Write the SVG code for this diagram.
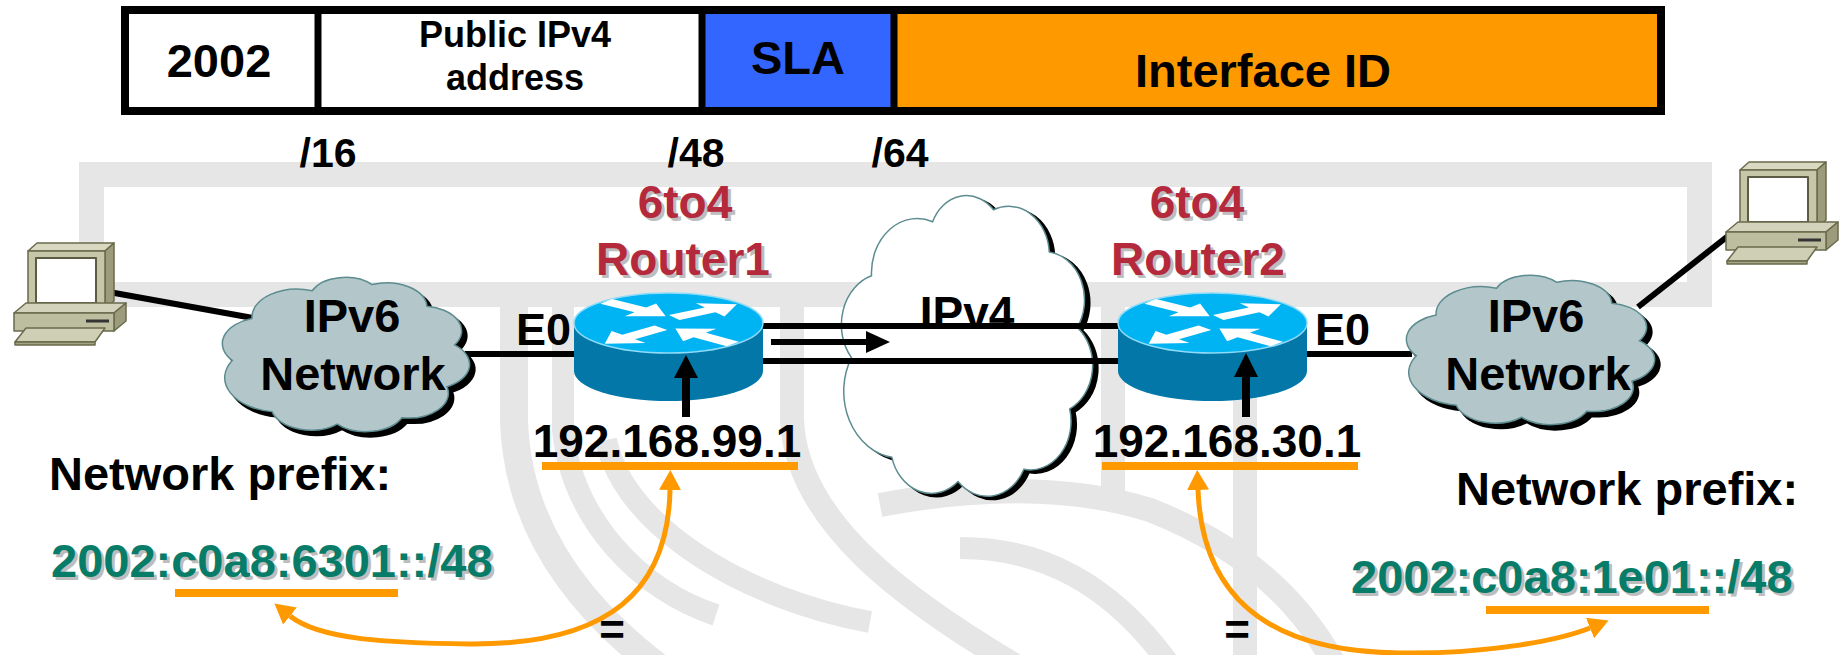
<svg xmlns="http://www.w3.org/2000/svg" width="1847" height="655" viewBox="0 0 1847 655">
<defs>
<style>
text{font-family:"Liberation Sans",Arial,Helvetica,sans-serif;font-weight:bold;fill:#000;}
.mid{text-anchor:middle;}
.red{fill:#b4293b;}
.grn{fill:#067c69;}
.sh{fill:#bdbdbd;}
.bg{fill:none;stroke:#e6e6e6;stroke-linecap:butt;}
.wire{fill:none;stroke:#000;stroke-width:6;}
.ul{stroke:#ff9900;stroke-width:8;}
.oarc{fill:none;stroke:#ff9900;stroke-width:5;marker-start:url(#ohead);marker-end:url(#ohead);}
.pcl{stroke:#6a6a4c;stroke-width:1.5;stroke-linejoin:round;}
</style>
<marker id="ohead" viewBox="0 0 20 22" refX="0" refY="11" markerWidth="20" markerHeight="22" markerUnits="userSpaceOnUse" orient="auto-start-reverse">
<path d="M0,0 L20,11 L0,22 Z" fill="#ff9900"/>
</marker>
<!-- cloud outline; its bumps reach roughly x 9..94, y 8..94 of the unit box -->
<path id="cloud" vector-effect="non-scaling-stroke" d="M12.2,54.3 A14.6,14.6 0 0 1 19,31 A15.5,15.5 0 0 1 39.7,15.6 A12.5,12.5 0 0 1 60.3,12.2 A13.8,13.8 0 0 1 79.2,24.2 A13.8,13.8 0 0 1 88.7,45.7 A13.8,13.8 0 0 1 86.1,68.9 A13.8,13.8 0 0 1 70.6,86.1 A13.8,13.8 0 0 1 48.3,89.6 A13.8,13.8 0 0 1 25.9,82.7 A19,19 0 0 1 12.2,54.3 Z"/>
<!-- workstation, local box 112x102 -->
<g id="pc" class="pcl">
<polygon points="14,8 23,0 100,0 91,8" fill="#d9d9c2"/>
<polygon points="91,8 100,0 100,58 91,66" fill="#9c9c7c"/>
<rect x="14" y="8" width="77" height="58" fill="#c6c6a9"/>
<rect x="22" y="15" width="60" height="45" fill="#fff" stroke="#5c5c44" stroke-width="2"/>
<polygon points="0,70 12,60 112,60 100,70" fill="#d3d3bb"/>
<polygon points="100,70 112,60 112,78 100,88" fill="#9c9c7c"/>
<rect x="0" y="70" width="100" height="18" fill="#bdbd9f"/>
<line x1="72" y1="78" x2="95" y2="78" stroke="#333" stroke-width="3"/>
<polygon points="1,99 12,85 91,85 81,99" fill="#cfcfb6"/>
<polygon points="1,99 81,99 81,102 1,102" fill="#a3a385"/>
</g>
<!-- one routing arrow drawn along +x in the unit top face -->
<polygon id="rarrow" points="0,-0.1 0.46,-0.1 0.46,-0.27 0.8,0 0.46,0.27 0.46,0.1 0,0.1"/>
<!-- router cylinder, origin at centre of top face -->
<g id="router">
<path d="M-94.5,0 L-94.5,48 A94.5,30 0 0 0 94.5,48 L94.5,0 Z" fill="#0277a8"/>
<ellipse cx="0" cy="0" rx="94.5" ry="30" fill="#00b3f2" stroke="#8edcf7" stroke-width="1.5"/>
<g transform="scale(94.5,30)" fill="#fff">
<use href="#rarrow" transform="translate(-0.66,-0.72) rotate(38)"/>
<use href="#rarrow" transform="translate(0.06,-0.18) rotate(-34)"/>
<use href="#rarrow" transform="translate(-0.08,0.16) rotate(138)"/>
<use href="#rarrow" transform="translate(0.68,0.7) rotate(220.6)"/>
</g>
</g>
</defs>

<rect width="1847" height="655" fill="#fff"/>

<!-- light watermark pattern behind the drawing -->
<g id="backdrop">
<rect class="bg" x="91.5" y="174.5" width="1608" height="120" stroke-width="25"/>
<path class="bg" stroke-width="28" d="M514,300 L514,420 C517,530 582,610 662,670"/>
<path class="bg" stroke-width="22" stroke-linecap="round" d="M563,300 L563,430 C572,520 640,590 716,615"/>
<path class="bg" stroke-width="22" stroke-linecap="round" d="M606,440 C625,530 750,600 870,622"/>
<path class="bg" stroke-width="24" d="M792,300 L792,420 C796,520 900,600 1040,680"/>
<path class="bg" stroke-width="24" d="M1113,300 L1113,495"/>
<path class="bg" stroke-width="24" d="M1245,300 L1245,660"/>
<path class="bg" stroke-width="24" d="M880,505 C960,490 1060,482 1150,510 C1240,545 1300,600 1335,665"/>
<path class="bg" stroke-width="22" d="M960,548 C1040,548 1110,582 1170,665"/>
</g>

<!-- address format bar -->
<g id="prefix-bar">
<rect x="125" y="10" width="1536" height="101" fill="#fff"/>
<rect x="702" y="10" width="192" height="101" fill="#3366ff"/>
<rect x="894" y="10" width="767" height="101" fill="#ff9900"/>
<rect x="125" y="10" width="1536" height="101" fill="none" stroke="#000" stroke-width="8"/>
<line x1="318" y1="10" x2="318" y2="111" stroke="#000" stroke-width="7"/>
<line x1="702" y1="10" x2="702" y2="111" stroke="#000" stroke-width="7"/>
<line x1="894" y1="10" x2="894" y2="111" stroke="#000" stroke-width="7"/>
<text class="mid" x="219" y="77" font-size="47">2002</text>
<text class="mid" x="515" y="47" font-size="36">Public IPv4</text>
<text class="mid" x="515" y="90" font-size="36">address</text>
<text class="mid" x="798" y="74" font-size="47">SLA</text>
<text class="mid" x="1263" y="87" font-size="47">Interface ID</text>
<text class="mid" x="328" y="167" font-size="41">/16</text>
<text class="mid" x="696" y="167" font-size="41">/48</text>
<text class="mid" x="900" y="167" font-size="41">/64</text>
</g>

<!-- connectors -->
<g id="connectors">
<line class="wire" x1="109" y1="292" x2="253" y2="318"/>
<line class="wire" x1="465" y1="354" x2="576" y2="354"/>
<line class="wire" x1="763" y1="326" x2="1118" y2="326"/>
<line class="wire" x1="763" y1="361" x2="1118" y2="361"/>
<line class="wire" x1="1306" y1="354" x2="1412" y2="354"/>
<line class="wire" x1="1638" y1="307" x2="1728" y2="236"/>
</g>

<g id="pc-left"><use href="#pc" transform="translate(14,243)"/></g>
<g id="pc-right"><use href="#pc" transform="translate(1726,162)"/></g>

<g id="ipv6-left">
<use href="#cloud" transform="translate(201.8,267.6) scale(2.906,1.802)" fill="#000" stroke="#000" stroke-width="2"/>
<use href="#cloud" transform="translate(196.8,262.6) scale(2.906,1.802)" fill="#b3c7cb" stroke="#5d8c90" stroke-width="1.5"/>
<text class="mid" x="352" y="332" font-size="47">IPv6</text>
<text class="mid" x="353" y="390" font-size="47">Network</text>
</g>

<g id="ipv6-right">
<use href="#cloud" transform="translate(1385.7,266) scale(2.918,1.744)" fill="#000" stroke="#000" stroke-width="2"/>
<use href="#cloud" transform="translate(1380.7,261) scale(2.918,1.744)" fill="#b3c7cb" stroke="#5d8c90" stroke-width="1.5"/>
<text class="mid" x="1536" y="332" font-size="47">IPv6</text>
<text class="mid" x="1538" y="390" font-size="47">Network</text>
</g>

<g id="ipv4-cloud">
<use href="#cloud" transform="translate(820.4,169.9) scale(2.953,3.512)" fill="#000" stroke="#000" stroke-width="2"/>
<use href="#cloud" transform="translate(815.4,166.9) scale(2.953,3.512)" fill="#fff" stroke="#5d8c90" stroke-width="1.5"/>
<text class="mid" x="967" y="329" font-size="46">IPv4</text>
<line class="wire" x1="840" y1="326" x2="1098" y2="326"/>
<line class="wire" x1="840" y1="361" x2="1098" y2="361"/>
<line class="wire" x1="771" y1="342" x2="868" y2="342" stroke-width="8"/>
<polygon points="866,331 890,342 866,353" fill="#000"/>
</g>

<g id="router1">
<use href="#router" transform="translate(668.5,323)"/>
<text class="mid sh" x="688" y="221" font-size="46">6to4</text>
<text class="mid red" x="685" y="218" font-size="46">6to4</text>
<text class="mid sh" x="686" y="278" font-size="46">Router1</text>
<text class="mid red" x="683" y="275" font-size="46">Router1</text>
<text x="516" y="345" font-size="45">E0</text>
<line x1="686" y1="417" x2="686" y2="376" stroke="#000" stroke-width="8"/>
<polygon points="674,378 686,355 698,378" fill="#000"/>
<text class="mid" x="667" y="457" font-size="46">192.168.99.1</text>
</g>

<g id="router2">
<use href="#router" transform="translate(1212.5,323)"/>
<text class="mid sh" x="1200" y="221" font-size="46">6to4</text>
<text class="mid red" x="1197" y="218" font-size="46">6to4</text>
<text class="mid sh" x="1201" y="278" font-size="46">Router2</text>
<text class="mid red" x="1198" y="275" font-size="46">Router2</text>
<text x="1315" y="345" font-size="45">E0</text>
<line x1="1246" y1="417" x2="1246" y2="375" stroke="#000" stroke-width="8"/>
<polygon points="1234,377 1246,353 1258,377" fill="#000"/>
<text class="mid" x="1227" y="457" font-size="46">192.168.30.1</text>
</g>

<g id="prefix-left">
<text x="49" y="490" font-size="47">Network prefix:</text>
<text class="sh" x="54" y="580" font-size="47">2002:c0a8:6301::/48</text>
<text class="grn" x="51" y="577" font-size="47">2002:c0a8:6301::/48</text>
</g>

<g id="prefix-right">
<text x="1456" y="505" font-size="47">Network prefix:</text>
<text class="sh" x="1354" y="596" font-size="47">2002:c0a8:1e01::/48</text>
<text class="grn" x="1351" y="593" font-size="47">2002:c0a8:1e01::/48</text>
</g>

<!-- highlighted address parts and the equalities between them -->
<g id="mapping">
<line class="ul" x1="542" y1="466" x2="798" y2="466"/>
<line class="ul" x1="1102" y1="466" x2="1358" y2="466"/>
<line class="ul" x1="175" y1="593" x2="398" y2="593" stroke-width="7"/>
<line class="ul" x1="1486" y1="610" x2="1709" y2="610" stroke-width="7"/>
<path class="oarc" d="M670,490 C668,590 610,645 470,644 C390,643 320,640 290,616"/>
<path class="oarc" d="M1198,490 C1202,590 1260,652 1400,653 C1490,654 1560,640 1590,628"/>
<text class="mid" x="612" y="645" font-size="44">=</text>
<text class="mid" x="1237" y="645" font-size="44">=</text>
</g>
</svg>
